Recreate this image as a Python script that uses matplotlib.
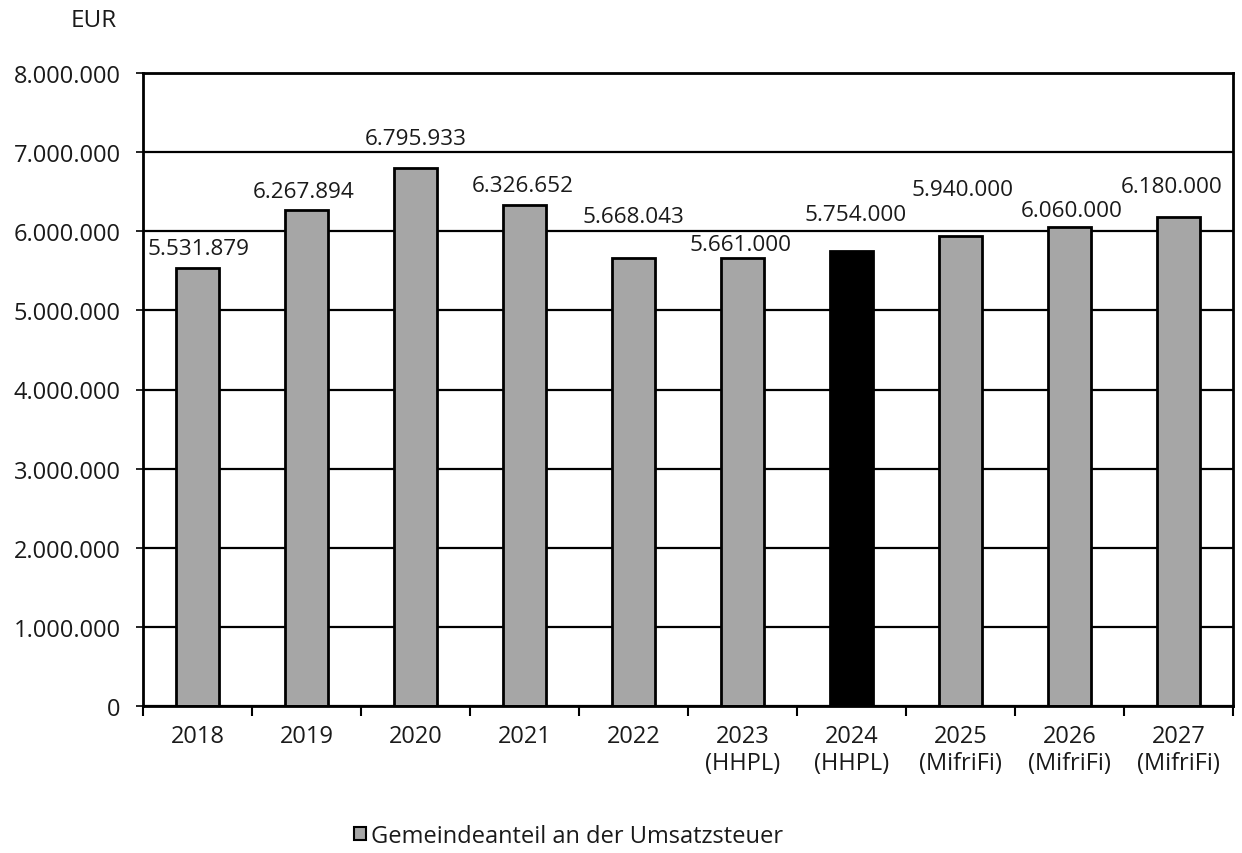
import matplotlib
matplotlib.use("Agg")
import matplotlib.pyplot as plt
from matplotlib.patches import Patch
from matplotlib.ticker import FuncFormatter, FixedLocator

plt.rcParams['font.family'] = ['Open Sans', 'DejaVu Sans']
plt.rcParams['xtick.labelsize'] = 17
plt.rcParams['ytick.labelsize'] = 17

# Gemeindeanteil an der Umsatzsteuer (EUR)
years = ["2018", "2019", "2020", "2021", "2022",
         "2023\n(HHPL)", "2024\n(HHPL)", "2025\n(MifriFi)", "2026\n(MifriFi)", "2027\n(MifriFi)"]
values = [5531879, 6267894, 6795933, 6326652, 5668043,
          5661000, 5754000, 5940000, 6060000, 6180000]
highlight_year = "2024\n(HHPL)"
legend_label = "Gemeindeanteil an der Umsatzsteuer"
y_ticks = [0, 1000000, 2000000, 3000000, 4000000, 5000000, 6000000, 7000000, 8000000]

# label placement (offset in pixels from bar top)
label_dx = [1, -3, 0, -2, 0, -2, 4, 2, 2, -7]
label_dy = [20, 19, 30, 20, 41, 14, 36, 46, 16, 31]

GREY = "#A6A6A6"
TEXT = "#1a1a1a"


def de_fmt(v, _pos=None):
    return f"{int(round(v)):,}".replace(",", ".")


fig = plt.figure(figsize=(12.42, 8.54), dpi=100)
ax = fig.add_axes([143 / 1242, 1 - 707 / 854, (1233 - 143) / 1242, (707 - 74) / 854])

x = list(range(len(years)))
colors = ["black" if y == highlight_year else GREY for y in years]
ax.bar(x, values, width=0.4, color=colors, edgecolor="black", linewidth=2.0, zorder=3)

ax.set_xlim(-0.5, len(years) - 0.5)
ax.set_ylim(0, 8000000)
ax.set_yticks(y_ticks)
ax.yaxis.set_major_formatter(FuncFormatter(de_fmt))
ax.set_xticks(x)
ax.set_xticklabels(years, linespacing=1.15)
ax.xaxis.set_minor_locator(FixedLocator([i - 0.5 for i in range(len(years) + 1)]))

ax.tick_params(axis='x', which='major', length=0, pad=13)
ax.tick_params(axis='x', which='minor', length=7, width=1.5, direction='out', color='black')
ax.tick_params(axis='y', length=5, width=1.2, direction='out', pad=11)
for lab in ax.get_xticklabels() + ax.get_yticklabels():
    lab.set_color(TEXT)
    lab.set_fontsize(17)

ax.yaxis.grid(True, color='black', linewidth=1.6, zorder=1)
ax.set_axisbelow(True)
for sp in ax.spines.values():
    sp.set_linewidth(2.0)
    sp.set_color('black')
    sp.set_zorder(4)

for xi, v, dx, dy in zip(x, values, label_dx, label_dy):
    ax.annotate(de_fmt(v), xy=(xi, v), xytext=(dx, dy), textcoords='offset pixels',
                ha='center', va='center', fontsize=16.2, color=TEXT, zorder=5)

fig.text(94 / 1242, 1 - 21 / 854, "EUR", ha='center', va='center', fontsize=17.5, color=TEXT)

handle = Patch(facecolor=GREY, edgecolor='black', linewidth=1.5)
fig.legend([handle], [legend_label], loc='center left',
           bbox_to_anchor=(354 / 1242, 1 - 837 / 854), frameon=False, fontsize=17,
           handlelength=0.5, handleheight=0.5, handletextpad=0.2, borderpad=0,
           borderaxespad=0, labelcolor=TEXT)

fig.savefig("out.png", dpi=100, facecolor='white')
